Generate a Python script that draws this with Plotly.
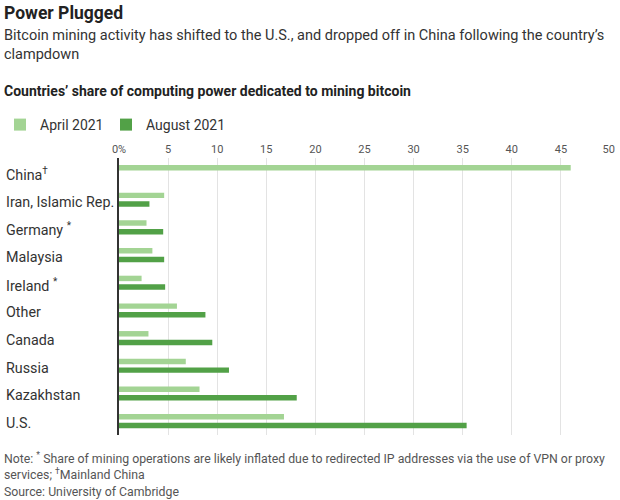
import plotly.graph_objects as go

categories = ["China", "Iran, Islamic Rep.", "Germany", "Malaysia", "Ireland",
              "Other", "Canada", "Russia", "Kazakhstan", "U.S."]
category_labels = ["China<sup>†</sup>", "Iran, Islamic Rep.", "Germany <sup>*</sup>", "Malaysia",
                   "Ireland <sup>*</sup>", "Other", "Canada", "Russia", "Kazakhstan", "U.S."]
april_2021 = [46.0, 4.6, 2.8, 3.4, 2.3, 5.9, 3.0, 6.8, 8.2, 16.8]
august_2021 = [None, 3.1, 4.5, 4.6, 4.7, 8.8, 9.5, 11.2, 18.1, 35.4]
tick_vals = [0, 5, 10, 15, 20, 25, 30, 35, 40, 45, 50]
tick_text = ["0%", "5", "10", "15", "20", "25", "30", "35", "40", "45", "50\u00a0"]

FONT = "Roboto"
W, H = 620, 500
PT, PB = 157, 435  # plot area top/bottom in px
PL, PR = 119, 618


def ypaper(p):
    return (PB - p) / (PB - PT)


fig = go.Figure()
fig.add_trace(go.Bar(name="April 2021", y=categories, x=april_2021, orientation="h",
                     marker=dict(color="#a3d494", line=dict(width=0)), legend="legend"))
fig.add_trace(go.Bar(name="August 2021", y=categories, x=august_2021, orientation="h",
                     marker=dict(color="#52a147", line=dict(width=0)), legend="legend2"))

texts = [
    ("<b>Power Plugged</b>", 11, 17.5, "#222"),
    ("Bitcoin mining activity has shifted to the U.S., and dropped off in China following the country’s", 34, 14.5, "#333"),
    ("clampdown", 53, 14.5, "#333"),
    ("<b>Countries’ share of computing power dedicated to mining bitcoin</b>", 90, 14, "#222"),
    ("Note: <sup>*</sup> Share of mining operations are likely inflated due to redirected IP addresses via the use of VPN or proxy", 458, 12.3, "#555"),
    ("services; <sup>†</sup>Mainland China", 474, 12.3, "#555"),
    ("Source: University of Cambridge", 492, 12.3, "#555"),
]
annotations = []
for t, p, s, c in texts:
    annotations.append(dict(text=t, xref="paper", yref="paper", x=-PL / (PR - PL), y=ypaper(p),
                            xanchor="left", yanchor="middle", showarrow=False,
                            font=dict(size=s, color=c, family=FONT)))

for cat, lab in zip(categories, category_labels):
    annotations.append(dict(text=lab, xref="paper", yref="y", x=-(PL - 2) / (PR - PL), y=cat,
                            xanchor="left", yanchor="middle", yshift=-2, showarrow=False,
                            font=dict(size=14.3, color="#333", family=FONT)))

legend_common = dict(orientation="h", xref="container", yref="container", y=1 - 125 / H,
                     xanchor="left", yanchor="middle", font=dict(size=14, color="#333"),
                     bgcolor="rgba(0,0,0,0)")

fig.update_layout(
    width=W, height=H,
    margin=dict(l=PL, r=W - PR, t=PT, b=H - PB, pad=0),
    paper_bgcolor="white", plot_bgcolor="white",
    font=dict(family=FONT, color="#333"),
    barmode="group", bargap=0.374, bargroupgap=0.37,
    annotations=annotations,
    showlegend=True,
    legend=dict(x=0, **legend_common),
    legend2=dict(x=106 / W, **legend_common),
    xaxis=dict(side="top", range=[0, 50], tickvals=tick_vals, ticktext=tick_text,
               showgrid=True, gridcolor="#e3e3e3", gridwidth=1, zeroline=False,
               showline=False, ticks="", tickfont=dict(size=11, color="#555"),
               ticklabelstandoff=2, ticklabeloverflow="allow", fixedrange=True),
    yaxis=dict(autorange="reversed", showticklabels=False, showgrid=False, zeroline=False,
               showline=True, linecolor="#333", linewidth=1.5, ticks="", fixedrange=True),
)

fig.write_html("out.html", config={"displayModeBar": False},
               post_script="document.body.style.margin='0';")
